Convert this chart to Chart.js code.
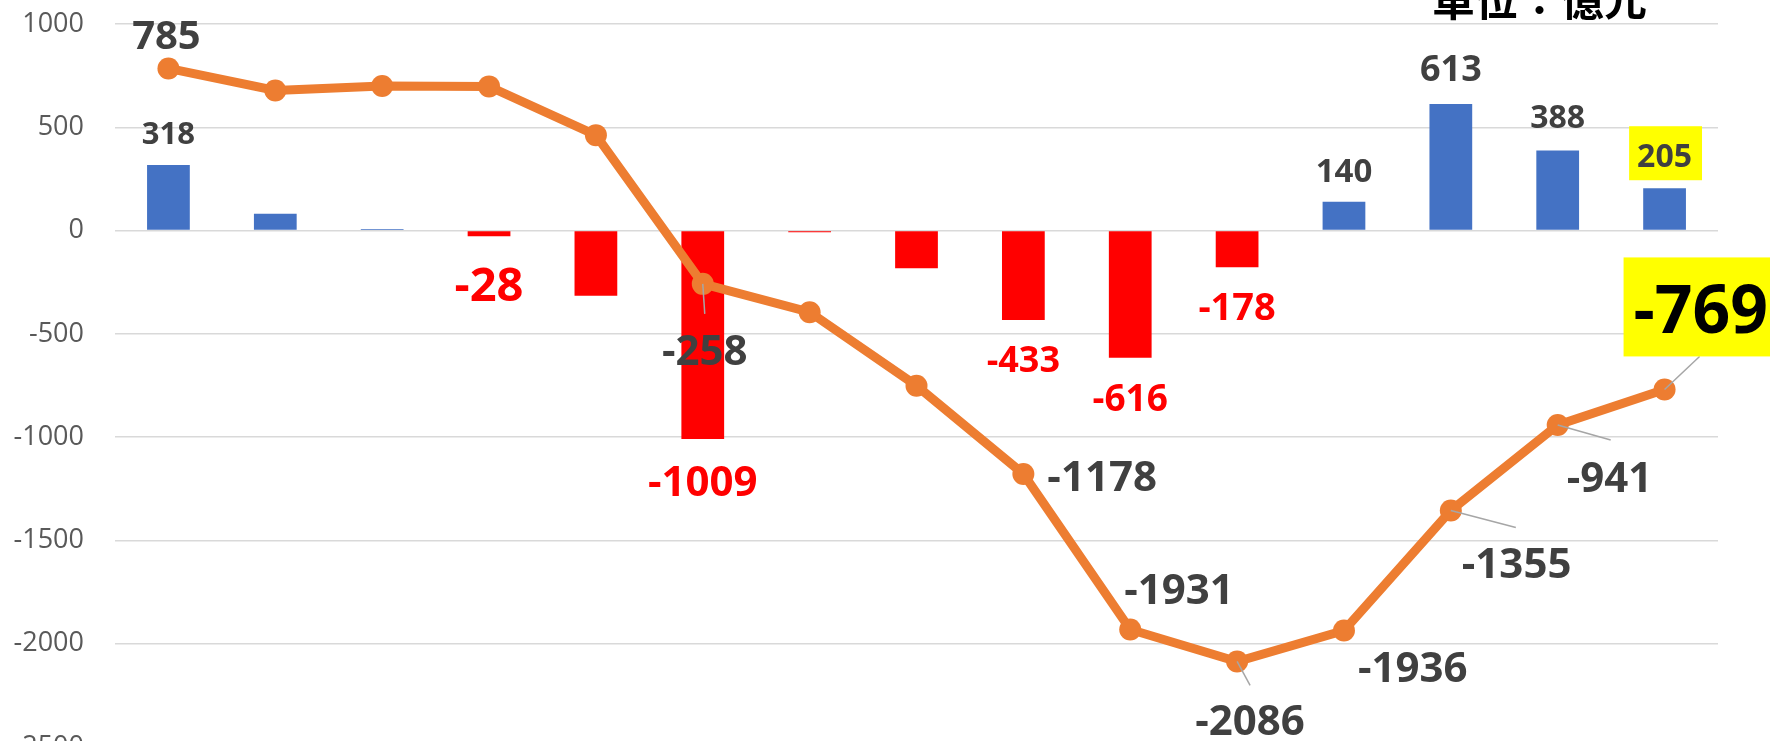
<!DOCTYPE html>
<html>
<head>
<meta charset="utf-8">
<script src="https://cdn.jsdelivr.net/npm/chart.js@4"></script>
<style>
  html, body { margin: 0; padding: 0; background: #fff; overflow: hidden; }
  #wrap { width: 1770px; height: 741px; overflow: hidden; }
</style>
</head>
<body>
<div id="wrap"><canvas id="chart" width="1770" height="790"></canvas></div>
<script>
// data
const categories = ['1', '2', '3', '4', '5', '6', '7', '8', '9', '10', '11', '12', '13', '14', '15'];
const barValues = [318, 82, 8, -28, -315, -1009, -8, -182, -433, -616, -178, 140, 613, 388, 205];
const lineValues = [785, 678, 700, 698, 462, -258, -395, -751, -1178, -1931, -2086, -1936, -1355, -941, -769];
const yTicks = [-2500, -2000, -1500, -1000, -500, 0, 500, 1000];
const unitText = '單位：億元';

const DARK = '#404040';
const RED = '#FF0000';
const LEADER = '#A6A6A6';

// label styles: ds 0 = line, ds 1 = bars; dx/dy relative to the drawn element
const labelSpecs = [
    { ds: 0, i: 0, size: 40, color: DARK, align: 'center', dx: -2, dy: -19 },
    { ds: 0, i: 5, size: 42, color: DARK, align: 'center', dx: 2, dy: 81, leader: [2, 30] },
    { ds: 0, i: 8, size: 42, color: DARK, align: 'left', dx: 24, dy: 17 },
    { ds: 0, i: 9, size: 42, color: DARK, align: 'left', dx: -6, dy: -25 },
    { ds: 0, i: 10, size: 42, color: DARK, align: 'center', dx: 13, dy: 74, leader: [13, 24] },
    { ds: 0, i: 11, size: 42, color: DARK, align: 'left', dx: 14, dy: 52 },
    { ds: 0, i: 12, size: 42, color: DARK, align: 'left', dx: 11, dy: 68, leader: [65, 17] },
    { ds: 0, i: 13, size: 42, color: DARK, align: 'left', dx: 9, dy: 67, leader: [53, 15] },
    { ds: 0, i: 14, size: 66, color: '#000', align: 'left', dx: -31, dy: -56, leader: [35, -33],
      box: { fill: '#FFFF00', l: 10, r: 11, t: 76, b: 23 } },
    { ds: 1, i: 0, size: 31, color: DARK, align: 'center', dx: 0, dy: -21 },
    { ds: 1, i: 3, size: 47, color: RED, align: 'center', dx: 0, dy: 65 },
    { ds: 1, i: 5, size: 42, color: RED, align: 'center', dx: 0, dy: 57 },
    { ds: 1, i: 8, size: 36, color: RED, align: 'center', dx: 0, dy: 52 },
    { ds: 1, i: 9, size: 37, color: RED, align: 'center', dx: 0, dy: 53 },
    { ds: 1, i: 10, size: 38, color: RED, align: 'center', dx: 0, dy: 53 },
    { ds: 1, i: 11, size: 33, color: DARK, align: 'center', dx: 0, dy: -20 },
    { ds: 1, i: 12, size: 36, color: DARK, align: 'center', dx: 0, dy: -23 },
    { ds: 1, i: 13, size: 32, color: DARK, align: 'center', dx: 0, dy: -22 },
    { ds: 1, i: 14, size: 32, color: DARK, align: 'center', dx: 0, dy: -21,
      box: { fill: '#FFFF00', l: 8, r: 10, t: 41, b: 13 } }
];

const valueLabels = {
    id: 'valueLabels',
    afterDatasetsDraw(chart) {
        const ctx = chart.ctx;
        ctx.save();
        labelSpecs.forEach(s => {
            const el = chart.getDatasetMeta(s.ds).data[s.i];
            const value = chart.data.datasets[s.ds].data[s.i];
            const text = String(value);
            const x = el.x + s.dx;
            const y = el.y + s.dy;
            if (s.leader) {
                ctx.strokeStyle = LEADER;
                ctx.lineWidth = 1.5;
                ctx.beginPath();
                ctx.moveTo(el.x, el.y);
                ctx.lineTo(el.x + s.leader[0], el.y + s.leader[1]);
                ctx.stroke();
            }
            ctx.font = `700 ${s.size}px "Open Sans", "Noto Sans", sans-serif`;
            ctx.textAlign = s.align;
            ctx.textBaseline = 'alphabetic';
            if (s.box) {
                const w = ctx.measureText(text).width;
                const left = s.align === 'center' ? x - w / 2 : x;
                ctx.fillStyle = s.box.fill;
                ctx.fillRect(left - s.box.l, y - s.box.t, w + s.box.l + s.box.r, s.box.t + s.box.b);
            }
            ctx.fillStyle = s.color;
            ctx.fillText(text, x, y);
        });
        ctx.restore();
    }
};

const unitTitle = {
    id: 'unitTitle',
    afterDraw(chart) {
        const ctx = chart.ctx;
        ctx.save();
        ctx.font = '700 43px "Noto Sans CJK TC", "Noto Sans CJK SC", sans-serif';
        ctx.fillStyle = '#000';
        ctx.textAlign = 'left';
        ctx.textBaseline = 'alphabetic';
        ctx.fillText(unitText, 1432, 16);
        ctx.restore();
    }
};

new Chart(document.getElementById('chart'), {
    type: 'bar',
    data: {
        labels: categories,
        datasets: [{
            type: 'line',
            data: lineValues,
            order: 0,
            borderColor: '#ED7D31',
            borderWidth: 9,
            pointRadius: 11,
            pointBackgroundColor: '#ED7D31',
            pointBorderWidth: 0,
            tension: 0
        }, {
            type: 'bar',
            data: barValues,
            order: 1,
            backgroundColor: barValues.map(v => v < 0 ? RED : '#4472C4'),
            categoryPercentage: 0.4,
            barPercentage: 1.0
        }]
    },
    options: {
        responsive: false,
        animation: false,
        layout: {
            padding: { top: 24, right: 52, bottom: 43, left: 0 }
        },
        plugins: {
            legend: { display: false },
            tooltip: { enabled: false }
        },
        scales: {
            x: {
                display: false
            },
            y: {
                min: yTicks[0],
                max: yTicks[yTicks.length - 1],
                afterFit: scale => {
                    scale.width = 115;
                    scale.paddingTop = 0;
                    scale.paddingBottom = 0;
                },
                afterBuildTicks: scale => { scale.ticks = yTicks.map(v => ({ value: v })); },
                border: { display: false },
                grid: {
                    color: '#D9D9D9',
                    lineWidth: 1.5,
                    drawTicks: true,
                    tickLength: 31,
                    tickColor: 'rgba(0,0,0,0)'
                },
                ticks: {
                    padding: 0,
                    color: '#595959',
                    font: { family: '"Open Sans", sans-serif', size: 27 },
                    callback: value => String(value)
                }
            }
        }
    },
    plugins: [valueLabels, unitTitle]
});
</script>
</body>
</html>
